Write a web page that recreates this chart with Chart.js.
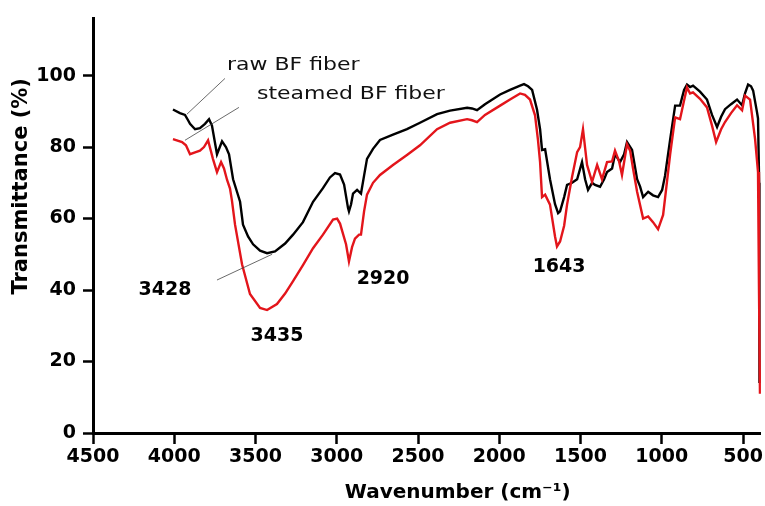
<!DOCTYPE html>
<html>
<head>
<meta charset="utf-8">
<script src="https://cdn.jsdelivr.net/npm/chart.js@4/dist/chart.umd.min.js"></script>
<style>
  html, body { margin: 0; padding: 0; background: #fff; }
  #wrap { width: 765px; height: 506px; }
</style>
</head>
<body>
<div id="wrap"><canvas id="ftirChart"></canvas></div>
<script>
// raw BF fiber spectrum (wavenumber, transmittance %)
const rawWn = [4008, 3965, 3934, 3915, 3903, 3872, 3842, 3811, 3786, 3768, 3737, 3706, 3682, 3663, 3638, 3595, 3577, 3546, 3515, 3472,
  3429, 3380, 3318, 3269, 3208, 3146, 3085, 3042, 3011, 2980, 2955, 2931, 2925, 2912, 2900, 2875, 2851, 2832, 2814, 2777,
  2734, 2654, 2568, 2488, 2383, 2303, 2198, 2168, 2137, 2088, 1995, 1934, 1872, 1848, 1823, 1798, 1768, 1749, 1737, 1718,
  1688, 1657, 1638, 1626, 1601, 1583, 1552, 1521, 1491, 1472, 1454, 1429, 1411, 1380, 1355, 1337, 1306, 1288, 1257, 1232,
  1214, 1183, 1152, 1134, 1115, 1084, 1054, 1023, 998, 980, 949, 918, 888, 863, 845, 826, 808, 765, 722, 691,
  660, 635, 611, 574, 537, 506, 488, 469, 451, 438, 414, 408, 401, 399];
const rawT = [90.5, 89.5, 89.0, 87.5, 86.5, 85.0, 85.3, 86.5, 87.8, 86.0, 78.0, 81.6, 80.0, 78.0, 71.0, 64.7, 58.3, 55.0, 52.8, 51.0,
  50.3, 50.8, 53.0, 55.5, 59.0, 64.7, 68.5, 71.5, 72.7, 72.3, 69.5, 63.0, 62.0, 64.0, 67.0, 68.0, 67.0, 72.0, 76.7, 79.5,
  82.0, 83.5, 85.0, 86.8, 89.2, 90.2, 91.0, 90.8, 90.3, 92.0, 94.7, 96.0, 97.2, 97.6, 97.0, 96.0, 90.5, 85.0, 79.2, 79.4,
  71.0, 64.0, 61.5, 62.0, 66.0, 69.4, 70.0, 71.0, 75.8, 71.0, 68.0, 70.0, 69.4, 68.9, 71.0, 73.0, 74.0, 78.0, 75.8, 78.0,
  81.4, 79.2, 71.0, 69.0, 66.0, 67.5, 66.5, 66.0, 68.0, 72.0, 82.0, 91.6, 91.6, 96.0, 97.5, 96.8, 97.2, 95.5, 93.3, 89.0,
  85.6, 88.5, 90.6, 92.0, 93.3, 91.7, 95.0, 97.5, 97.0, 95.8, 89.7, 88.0, 70.0, 14.0];

// steamed BF fiber spectrum
const steamWn = [4008, 3952, 3928, 3903, 3872, 3842, 3817, 3792, 3762, 3737, 3712, 3694, 3675, 3657, 3645, 3626, 3583, 3534, 3472, 3429,
  3368, 3318, 3269, 3208, 3146, 3085, 3023, 2998, 2980, 2943, 2925, 2906, 2888, 2863, 2851, 2832, 2814, 2777, 2734, 2654,
  2568, 2488, 2383, 2303, 2198, 2168, 2137, 2088, 1995, 1934, 1872, 1842, 1811, 1780, 1762, 1749, 1737, 1718, 1688, 1657,
  1645, 1626, 1601, 1583, 1552, 1521, 1503, 1485, 1460, 1429, 1398, 1368, 1337, 1306, 1288, 1263, 1245, 1214, 1195, 1177,
  1152, 1115, 1084, 1054, 1023, 992, 974, 949, 931, 918, 888, 863, 845, 826, 808, 765, 722, 691, 666, 635,
  611, 574, 537, 506, 488, 457, 426, 408, 402, 396];
const steamT = [82.2, 81.4, 80.5, 78.0, 78.5, 79.0, 80.0, 81.9, 76.7, 73.0, 75.8, 74.0, 70.8, 68.4, 65.0, 58.3, 47.2, 38.9, 35.0, 34.4,
  36.1, 39.0, 42.5, 47.0, 51.7, 55.5, 59.7, 60.0, 58.6, 52.8, 48.0, 52.0, 54.4, 55.5, 55.5, 62.0, 66.7, 70.0, 72.2, 75.0,
  77.8, 80.5, 85.0, 86.8, 87.8, 87.5, 87.0, 89.0, 91.6, 93.3, 95.0, 94.6, 93.3, 88.9, 82.0, 75.8, 66.0, 66.7, 63.9, 55.0,
  52.2, 53.6, 58.0, 63.9, 71.7, 78.6, 80.0, 85.0, 75.0, 70.3, 75.0, 71.0, 75.8, 76.0, 79.0, 76.0, 72.2, 80.8, 79.0, 74.0,
  67.5, 60.0, 60.6, 59.0, 57.0, 61.0, 68.0, 77.8, 84.0, 88.3, 87.8, 93.0, 96.7, 95.0, 95.3, 93.5, 91.1, 86.0, 81.4, 85.0,
  87.0, 89.5, 91.7, 90.3, 94.4, 93.3, 82.2, 73.0, 40.0, 11.0];

const xTicks = [4500, 4000, 3500, 3000, 2500, 2000, 1500, 1000, 500];
const yTicks = [0, 20, 40, 60, 80, 100];

// annotations, in data units (wavenumber, transmittance)
const legendNotes = ['raw BF fiber', 'steamed BF fiber'];
const legendWn = [3675, 3491];
const legendT = [102.8, 94.7];
const peakNotes = ['3428', '3435', '2920', '1643'];
const peakWn = [4057, 3368, 2715, 1632];
const peakT = [40.0, 27.2, 43.0, 46.4];
const leaderFrom = [[3688, 99.2], [3602, 91.1], [3737, 42.8]];
const leaderTo = [[3922, 89.2], [3934, 81.9], [3398, 50.0]];

const toPoints = (xs, ys) => xs.map((v, i) => ({ x: v, y: ys[i] }));

const notesPlugin = {
    id: 'notes',
    afterDraw(chart) {
        const { ctx, scales: { x, y }, chartArea } = chart;
        ctx.save();

        // leader lines
        ctx.strokeStyle = '#444';
        ctx.lineWidth = 0.8;
        leaderFrom.forEach((p, i) => {
            ctx.beginPath();
            ctx.moveTo(x.getPixelForValue(p[0]), y.getPixelForValue(p[1]));
            ctx.lineTo(x.getPixelForValue(leaderTo[i][0]), y.getPixelForValue(leaderTo[i][1]));
            ctx.stroke();
        });

        // series names (slightly stretched like the original figure)
        ctx.fillStyle = '#111';
        ctx.font = '18px "DejaVu Sans"';
        ctx.textBaseline = 'middle';
        ctx.textAlign = 'left';
        legendNotes.forEach((t, i) => {
            const px = x.getPixelForValue(legendWn[i]);
            const py = y.getPixelForValue(legendT[i]);
            ctx.save();
            ctx.translate(px, py);
            ctx.scale(1.22, 1);
            ctx.fillText(t, 0, 0);
            ctx.restore();
        });

        // peak labels
        ctx.fillStyle = '#000';
        ctx.font = 'bold 19px "DejaVu Sans"';
        ctx.textAlign = 'center';
        peakNotes.forEach((t, i) => {
            ctx.fillText(t, x.getPixelForValue(peakWn[i]), y.getPixelForValue(peakT[i]));
        });

        // axis titles
        ctx.font = 'bold 20px "DejaVu Sans"';
        ctx.fillText('Wavenumber (cm\u207B\u00B9)', chartArea.left + (chartArea.right - chartArea.left) * 0.546, 493);
        ctx.save();
        ctx.translate(22, chartArea.top + (chartArea.bottom - chartArea.top) * 0.405);
        ctx.rotate(-Math.PI / 2);
        ctx.font = 'bold 21px "DejaVu Sans"';
        ctx.fillText('Transmittance (%)', 0, 0);
        ctx.restore();

        ctx.restore();
    }
};

const chart = new Chart(document.getElementById('ftirChart'), {
    type: 'line',
    data: {
        datasets: [{
            label: 'steamed BF fiber',
            data: toPoints(steamWn, steamT),
            borderColor: '#e3151b',
            borderWidth: 2.4
        }, {
            label: 'raw BF fiber',
            data: toPoints(rawWn, rawT),
            borderColor: '#000000',
            borderWidth: 2.4
        }]
    },
    options: {
        responsive: true,
        maintainAspectRatio: false,
        animation: false,
        parsing: false,
        elements: {
            point: { radius: 0 },
            line: { tension: 0, fill: false }
        },
        layout: { padding: { top: 16, right: 4, left: 0, bottom: 0 } },
        scales: {
            x: {
                type: 'linear',
                reverse: true,
                min: 390,
                max: 4500,
                afterBuildTicks: (s) => { s.ticks = xTicks.map(v => ({ value: v })); },
                afterFit: (s) => { s.height = 73; },
                border: { display: true, color: '#000', width: 3 },
                grid: { drawOnChartArea: false, drawTicks: true, tickLength: 11, tickWidth: 2.5, tickColor: '#000' },
                ticks: {
                    color: '#000',
                    padding: 2,
                    maxRotation: 0,
                    autoSkip: false,
                    callback: (v) => String(v),
                    font: { family: '"DejaVu Sans"', size: 19, weight: 'bold' }
                }
            },
            y: {
                min: 0,
                max: 116,
                afterBuildTicks: (s) => { s.ticks = yTicks.map(v => ({ value: v })); },
                afterFit: (s) => { s.width = 93; },
                border: { display: true, color: '#000', width: 3 },
                grid: { drawOnChartArea: false, drawTicks: true, tickLength: 10, tickWidth: 2.5, tickColor: '#000' },
                ticks: {
                    color: '#000',
                    padding: 7,
                    autoSkip: false,
                    callback: (v) => String(v),
                    font: { family: '"DejaVu Sans"', size: 19, weight: 'bold' }
                }
            }
        },
        plugins: {
            legend: { display: false },
            tooltip: { enabled: false }
        }
    },
    plugins: [notesPlugin]
});
</script>
</body>
</html>
